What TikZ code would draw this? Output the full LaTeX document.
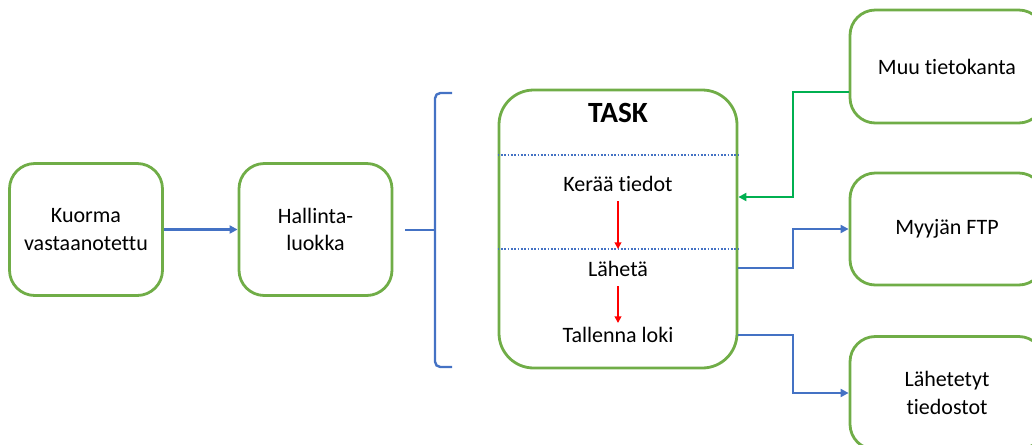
\documentclass[tikz,border=0pt]{standalone}
\usepackage{fontspec}
\setmainfont{Carlito}[Ligatures=NoCommon]
\usetikzlibrary{arrows.meta, calc}
\definecolor{boxgreen}{HTML}{70AD47}
\definecolor{lineblue}{HTML}{4472C4}
\definecolor{linegreen}{HTML}{00B050}
\definecolor{linered}{HTML}{FF0000}

\begin{document}
\begin{tikzpicture}[x=0.75pt, y=-0.75pt,
    box/.style={draw=boxgreen, line width=2.1pt, rounded corners=19pt, fill=white, align=center, font=\fontsize{16.5}{20.5}\selectfont},
    tasktext/.style={font=\fontsize{16.5}{20.5}\selectfont, inner sep=2pt},
    blueline/.style={lineblue, line width=1.8pt},
    bluearr/.style={blueline, -{Triangle[length=6pt, width=6pt]}},
    greenarr/.style={linegreen, line width=1.8pt, -{Triangle[length=6pt, width=6pt]}},
    redarr/.style={linered, line width=1.6pt, -{Triangle[length=5pt, width=5pt]}},
    sepline/.style={lineblue, line width=1.6pt, dash pattern=on 1.2pt off 1.3pt}]
    \useasboundingbox (0,0) rectangle (1032,444);
    \clip (0,0) rectangle (1032,444);
    %
    \node[box, minimum width=114.75pt, minimum height=99pt] (kuorma) at (86,229.5) {Kuorma\\vastaanotettu};
    \node[box, minimum width=114.75pt, minimum height=99pt] (hallinta) at (315.5,229.5) {Hallinta-\\luokka};
    \draw[bluearr] (kuorma) -- (hallinta);
    %
    \coordinate (bracein) at (405,230);
    \coordinate (bracetip) at (435,230);
    \draw[blueline, rounded corners=4pt] (452,93) -- (435,93) -- (435,367) -- (452,367);
    \draw[blueline] (bracein) -- (bracetip);
    %
    \node[box, rounded corners=26pt, minimum width=178.5pt, minimum height=208.5pt] (task) at (618,229) {};
    \node[font=\bfseries\fontsize{22}{26}\selectfont] (tasktitle) at (618,113) {TASK};
    \node[tasktext] (keraa) at (618,184) {Kerää tiedot};
    \node[tasktext] (laheta) at (618,269) {Lähetä};
    \node[tasktext] (tallenna) at (618,335) {Tallenna loki};
    \coordinate (sep1) at (618,155);
    \coordinate (sep2) at (618,249);
    \draw[sepline] (task.west |- sep1) -- (task.east |- sep1);
    \draw[sepline] (task.west |- sep2) -- (task.east |- sep2);
    \draw[redarr, shorten <=5pt] (keraa.south) -- (keraa.south |- sep2);
    \draw[redarr, shorten <=5pt, shorten >=1pt] (laheta) -- (tallenna);
    %
    \node[box, minimum width=145.5pt, minimum height=84.75pt] (muu) at (947,66.5) {Muu tietokanta};
    \node[box, minimum width=145.5pt, minimum height=84pt] (myyja) at (947,229) {Myyjän FTP};
    \node[box, minimum width=145.5pt, minimum height=84.75pt] (lahetetyt) at (947,393) {Lähetetyt\\tiedostot};
    %
    \coordinate (jmuu) at (793,197);
    \coordinate (jmyyja) at (793,268);
    \coordinate (jlah) at (793,335);
    \draw[greenarr] ($(muu.west)+(0,25.5)$) -| (jmuu) -- (task.east |- jmuu);
    \draw[bluearr] (task.east |- jmyyja) -| (myyja.west -| jmyyja) -- (myyja.west);
    \draw[bluearr] (task.east |- jlah) -| (lahetetyt.west -| jlah) -- (lahetetyt.west);
\end{tikzpicture}
\end{document}
